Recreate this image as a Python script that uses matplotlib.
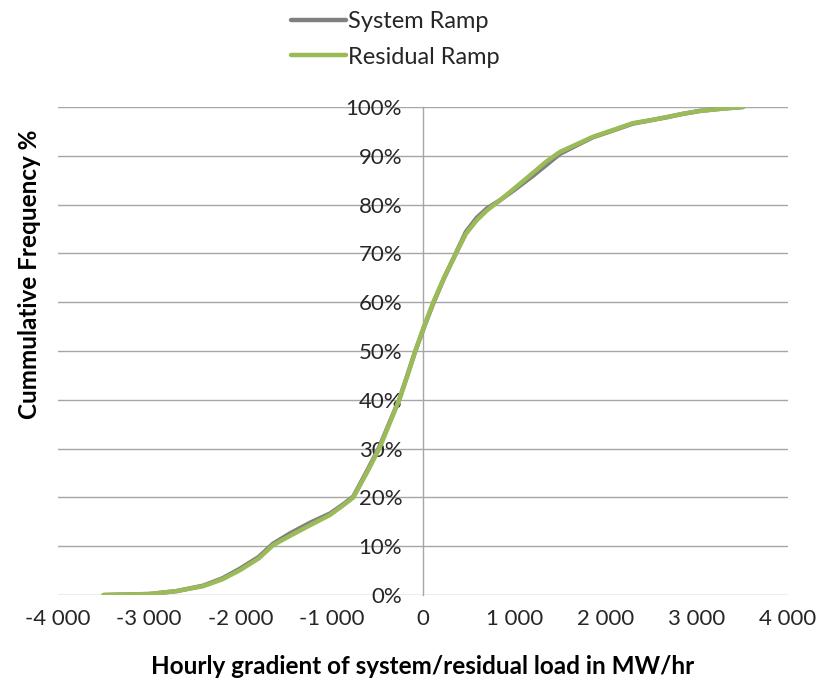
import matplotlib
matplotlib.use("Agg")
import matplotlib.pyplot as plt

# Data (x in MW/hr, y in % cumulative frequency)
residual_x = [-3500, -3000, -2700, -2411, -2200, -2005, -1800, -1644, -1450, -1238, -1019, -873, -763,
              -617, -479, -370, -260, -170, -84, 10, 113, 230, 362, 470, 589, 700, 844,
              1000, 1205, 1350, 1501, 1700, 1863, 2100, 2301, 2500, 2674, 2850, 3036, 3300, 3507]
residual_y = [0.0, 0.2, 0.8, 1.8, 3.2, 5.1, 7.5, 10.2, 12.2, 14.3, 16.4, 18.4, 20.0,
              25.0, 30.0, 35.0, 40.0, 45.0, 50.0, 55.0, 60.0, 65.0, 70.0, 74.0, 76.8, 78.8, 80.9,
              83.3, 86.5, 88.8, 90.8, 92.5, 93.9, 95.4, 96.7, 97.3, 97.95, 98.6, 99.2, 99.7, 100.0]

system_x = [-3500, -3000, -2700, -2411, -2200, -2005, -1800, -1644, -1450, -1238, -1019, -873, -763,
            -617, -479, -370, -260, -170, -84, 10, 113, 230, 362, 470, 589, 700, 844,
            1000, 1205, 1350, 1501, 1700, 1863, 2100, 2301, 2500, 2674, 2850, 3036, 3300, 3507]
system_y = [0.0, 0.2, 0.8, 1.9, 3.4, 5.4, 7.8, 10.5, 12.7, 14.8, 16.7, 18.6, 20.2,
            25.3, 30.3, 35.2, 40.1, 45.1, 50.0, 54.8, 59.8, 64.9, 70.1, 74.4, 77.3, 79.2, 80.9,
            83.0, 85.9, 88.1, 90.4, 92.3, 93.8, 95.3, 96.6, 97.3, 97.9, 98.6, 99.2, 99.7, 100.0]

x_ticks = [-4000, -3000, -2000, -1000, 0, 1000, 2000, 3000, 4000]
x_tick_labels = ["-4 000", "-3 000", "-2 000", "-1 000", "0", "1 000", "2 000", "3 000", "4 000"]
y_ticks = [0, 10, 20, 30, 40, 50, 60, 70, 80, 90, 100]
y_tick_labels = [f"{v}%" for v in y_ticks]

plt.rcParams['font.family'] = ['Lato', 'DejaVu Sans']

fig = plt.figure(figsize=(8.24, 6.84), dpi=100)
ax = fig.add_axes([58/824, 1-595/684, (788-58)/824, (595-107)/684])

grid_col = "#a6a6a6"
ax.set_xlim(-4000, 4000)
ax.set_ylim(0, 100)
for y in y_ticks:
    ax.axhline(y, color=grid_col, lw=1.0, zorder=1)

ax.plot(system_x, system_y, color="#808080", lw=3.2, solid_capstyle="round",
        solid_joinstyle="round", zorder=3, label="System Ramp")
ax.plot(residual_x, residual_y, color="#9bbb59", lw=3.2, solid_capstyle="round",
        solid_joinstyle="round", zorder=4, label="Residual Ramp")

for s in ["top", "right", "bottom"]:
    ax.spines[s].set_visible(False)
ax.spines["left"].set_position(("data", 0))
ax.spines["left"].set_color(grid_col)
ax.spines["left"].set_linewidth(1.0)
ax.spines["left"].set_zorder(1)

ax.set_yticks(y_ticks)
ax.set_yticklabels(y_tick_labels, fontsize=16, color="#262626")
ax.tick_params(axis="y", length=0, pad=15)
ax.set_xticks(x_ticks)
ax.set_xticklabels(x_tick_labels, fontsize=16, color="#262626")
ax.tick_params(axis="x", length=0, pad=10)
for lbl in ax.get_yticklabels():
    lbl.set_zorder(2)

fig.text(423/824, 1-667/684, "Hourly gradient of system/residual load in MW/hr",
         ha="center", va="center", fontsize=17.5, fontweight="bold", color="black")
fig.text(30/824, 1-274/684, "Cummulative Frequency %", rotation=90,
         ha="center", va="center", fontsize=17.5, fontweight="bold", color="black")

leg = fig.legend(loc="upper left", bbox_to_anchor=(270/824, 1.015), frameon=False,
                 fontsize=17, handlelength=2.3, handletextpad=0.1, labelspacing=0.62,
                 labelcolor="#262626")

fig.savefig("out.png", dpi=100)
